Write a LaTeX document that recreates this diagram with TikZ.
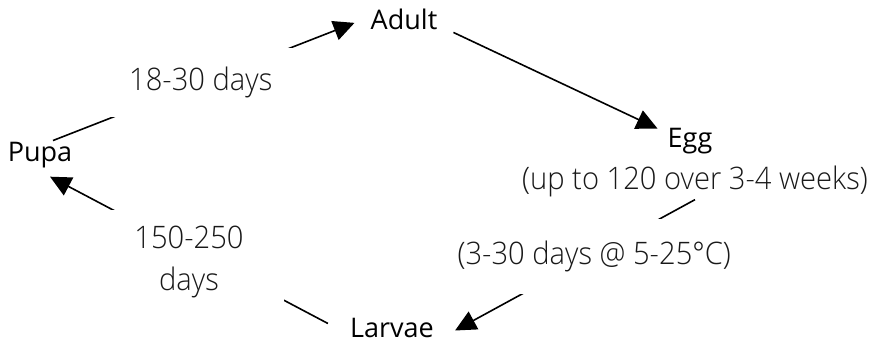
\documentclass[tikz,border=0pt]{standalone}
\usepackage{fontspec}
\setmainfont{Open Sans}
\newfontfamily\lightfont[FakeStretch=0.94]{Open Sans Light}
\usetikzlibrary{arrows.meta}

\begin{document}
\begin{tikzpicture}[x=1pt,y=-1pt,
		stage/.style={font=\fontsize{27}{32}\selectfont,inner sep=2pt},
		note/.style={font=\lightfont\fontsize{31}{42}\selectfont,text=black!90,align=center,inner sep=2pt},
		span/.style={note,fill=white,inner sep=16pt},
		link/.style={line width=1.6pt,-{Triangle[length=21pt,width=20pt]}}]
	\useasboundingbox (0,0) rectangle (876,344);
	\node[stage,anchor=base] (adult) at (404,30) {Adult};
	\node[stage,anchor=base] (egg) at (690,148) {Egg};
	\node[note,anchor=base] (eggnote) at (695,190) {(up to 120 over 3-4 weeks)};
	\node[stage,anchor=base] (larvae) at (392,338) {Larvae};
	\node[stage,anchor=base] (pupa) at (40,162) {Pupa};
	\draw[link] ([xshift=13pt]pupa.north) -- node[span,pos=0.49,inner xsep=25pt,inner ysep=19pt] {18-30 days} ([xshift=-14pt,yshift=-3pt]adult.west);
	\draw[link] ([xshift=14pt]adult.south east) -- ([xshift=-8pt,yshift=-2pt]egg.north west);
	\draw[link] (eggnote.south) -- node[span,pos=0.42,inner ysep=22pt,yshift=-2pt] {(3-30 days @ 5-25°C)} ([xshift=19pt,yshift=-2pt]larvae.east);
	\draw[link] ([xshift=-20pt,yshift=5pt]larvae.west) -- node[span,pos=0.5,yshift=-12pt,inner xsep=40pt] {150-250\\days} ([xshift=10pt,yshift=-6pt]pupa.south);
\end{tikzpicture}
\end{document}
